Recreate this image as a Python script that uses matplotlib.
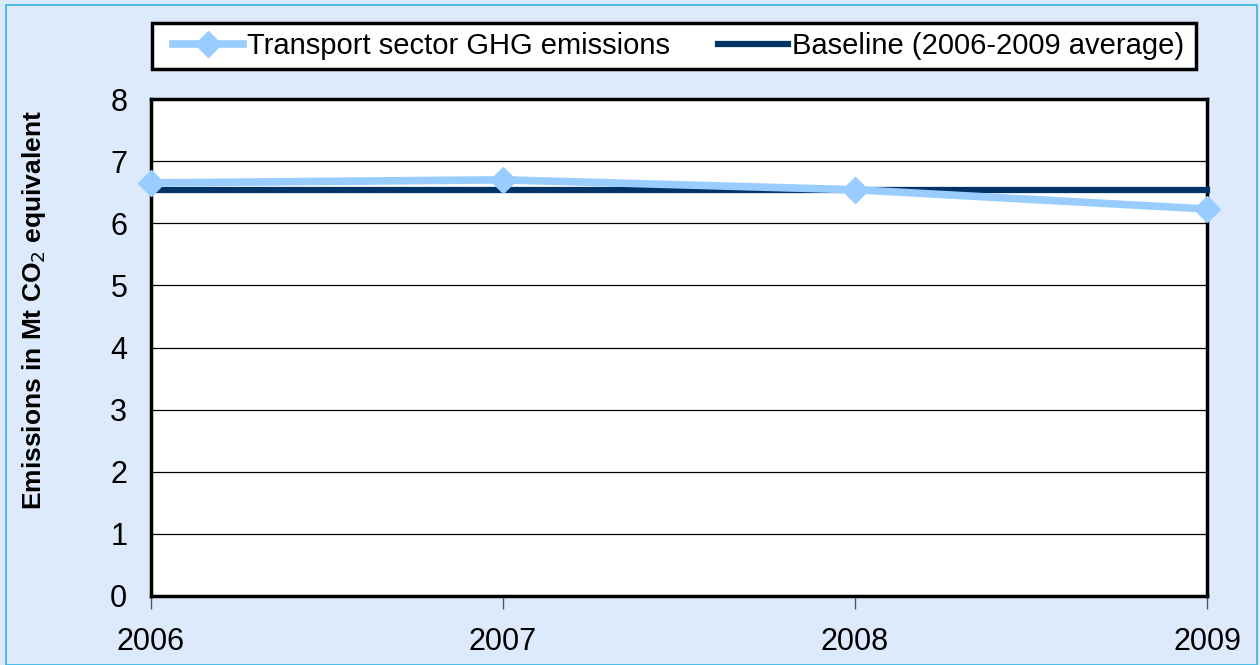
import matplotlib.pyplot as plt
import numpy as np

years = ['2006', '2007', '2008', '2009']
transport = [6.65, 6.70, 6.54, 6.23]
baseline = [6.53, 6.53, 6.53, 6.53]

bg = '#DCEAFB'

plt.rcParams['font.family'] = ['Liberation Sans', 'DejaVu Sans']
fig = plt.figure(figsize=(12.6, 6.65), dpi=100, facecolor=bg)

# outer frame
fig.patches.append(plt.Rectangle((0.005, 0.0), 0.993, 0.992, transform=fig.transFigure,
                                 fill=False, edgecolor='#33B5E5', lw=1.2))

ax = fig.add_axes([0.1198, 0.1038, 0.8382, 0.7472])
ax.set_facecolor('white')

x = np.arange(len(years))
l1, = ax.plot(x, transport, '-', color='#99CCFF', lw=5.5, marker='D', ms=13,
              clip_on=False, zorder=4, label='Transport sector GHG emissions')
l2, = ax.plot(x, baseline, '-', color='#003366', lw=4.5, clip_on=False, zorder=3,
              label='Baseline (2006-2009 average)')

ax.set_xlim(0, len(years) - 1)
ax.set_ylim(0, 8)
ax.set_yticks(range(0, 9))
ax.set_xticks(x)
ax.set_xticklabels(years)
ax.yaxis.grid(True, color='black', lw=0.9)
ax.set_axisbelow(True)
for s in ax.spines.values():
    s.set_linewidth(2.5)
    s.set_color('black')
ax.tick_params(axis='y', length=0, labelsize=22, pad=17)
ax.tick_params(axis='x', length=9, width=1, color='#555555', labelsize=22, pad=13)

ax.set_ylabel('Emissions in Mt CO$_2$ equivalent', fontsize=19, fontweight='bold')
ax.yaxis.set_label_coords(-0.0975, 0.575)

# legend box drawn separately so the entries can sit inset from the frame
fig.patches.append(plt.Rectangle((0.1206, 0.896), 0.829, 0.069, transform=fig.transFigure,
                                 facecolor='white', edgecolor='black', lw=2.5))
leg = fig.legend(handles=[l1, l2], loc='center left', ncol=2, mode='expand',
                 bbox_to_anchor=(0.137, 0.896, 0.803, 0.069), fontsize=21,
                 frameon=False, borderpad=0, handlelength=2.4, handletextpad=0.15,
                 borderaxespad=0)

plt.savefig('out.png', dpi=100, facecolor=bg)
